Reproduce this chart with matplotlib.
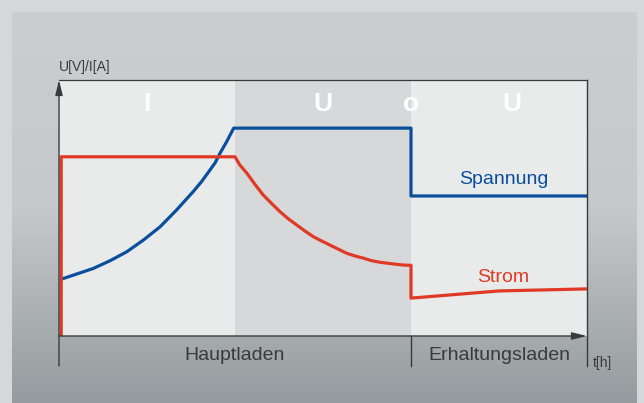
import numpy as np
import matplotlib.pyplot as plt
from matplotlib.colors import LinearSegmentedColormap

plt.rcParams['font.family'] = ['Liberation Sans', 'DejaVu Sans']

# Phasen (t in willkürlichen Einheiten)
phasen_grenzen = [0, 4, 8, 12]
phasen_labels = ["I", "U", "o", "U"]
phasen_label_t = [2.0, 6.0, 8.0, 10.3]
abschnitte = ["Hauptladen", "Erhaltungsladen"]
abschnitt_t = [4, 10]

# Spannung
t_spannung = [0.07, 0.40, 0.78, 1.16, 1.54, 1.92, 2.30, 2.67, 3.05, 3.24, 3.43,
              3.55, 3.66, 3.81, 3.97, 8.0, 8.0, 12.0]
u_spannung = [22.3, 24.2, 26.4, 29.4, 32.9, 37.5, 42.7, 49.2, 56.4, 60.3, 64.8,
              67.7, 71.4, 75.9, 81.2, 81.2, 54.7, 54.7]

# Strom
t_strom = [0.05, 0.05, 4.0, 4.11, 4.27, 4.45, 4.64, 4.83, 5.02, 5.21, 5.40, 5.59,
           5.78, 5.97, 6.16, 6.35, 6.54, 6.73, 6.92, 7.11, 7.30, 7.48, 7.67, 7.83,
           8.0, 8.0, 10.0, 12.0]
i_strom = [0.0, 70.0, 70.0, 66.8, 63.6, 59.3, 55.1, 51.8, 48.6, 45.8, 43.4, 41.0,
           38.8, 37.1, 35.5, 33.9, 32.3, 31.25, 30.4, 29.4, 28.8, 28.4, 28.0, 27.7,
           27.6, 14.8, 17.6, 18.4]

blau = "#0a4f9c"
rot = "#e03a26"
grau = "#3a3a3a"

fig = plt.figure(figsize=(6.44, 4.03), dpi=100)
fig.patch.set_facecolor("#d6d7d9")

# Hintergrund mit Verlauf
bg = fig.add_axes([12 / 644, 0, 625 / 644, 391 / 403])
cmap = LinearSegmentedColormap.from_list("bg", ["#cbced1", "#c6c9cc", "#959b9e"])
bg.imshow(np.linspace(0, 1, 256).reshape(-1, 1), aspect="auto", cmap=cmap,
          extent=[0, 1, 0, 1], origin="upper")
bg.axis("off")

ax = fig.add_axes([59 / 644, (403 - 336) / 403, 528 / 644, 256 / 403])
ax.set_xlim(phasen_grenzen[0], phasen_grenzen[-1])
ax.set_ylim(0, 100)

farben = ["#e9eaea", "#d7d8da", "#e9eaea"]
for i in range(3):
    ax.axvspan(phasen_grenzen[i], phasen_grenzen[i + 1], color=farben[i], lw=0, zorder=0)

ax.plot(t_spannung, u_spannung, color=blau, lw=2.3, solid_joinstyle="round", zorder=3)
ax.plot(t_strom, i_strom, color=rot, lw=2.3, solid_joinstyle="round", zorder=3)

for lab, t in zip(phasen_labels, phasen_label_t):
    ax.text(t, 87.9, lab, color="white", fontsize=19, fontweight="bold",
            ha="center", va="baseline", zorder=4)

ax.text(10.1, 61.3, "Spannung", color=blau, fontsize=14, ha="center", va="center")
ax.text(10.1, 23.0, "Strom", color=rot, fontsize=14, ha="center", va="center")

for s in ["left", "bottom", "right"]:
    ax.spines[s].set_visible(False)
ax.spines["top"].set_color(grau)
ax.spines["top"].set_linewidth(0.9)
ax.set_xticks([])
ax.set_yticks([])

unten = -30 / 256
tr = ax.get_xaxis_transform()
ax.annotate("", xy=(0, 1.0), xytext=(0, unten), xycoords="axes fraction",
            arrowprops=dict(arrowstyle="-|>,head_length=0.9,head_width=0.22",
                            color=grau, lw=1.0, shrinkA=0, shrinkB=0))
ax.annotate("", xy=(1.0, 0), xytext=(0, 0), xycoords="axes fraction",
            arrowprops=dict(arrowstyle="-|>,head_length=0.9,head_width=0.22",
                            color=grau, lw=1.0, shrinkA=0, shrinkB=0))
ax.plot([phasen_grenzen[2]] * 2, [0, unten], transform=tr, color=grau, lw=1.0, clip_on=False)
ax.plot([phasen_grenzen[-1]] * 2, [1, unten], transform=tr, color=grau, lw=1.0, clip_on=False)

for lab, t in zip(abschnitte, abschnitt_t):
    ax.text(t, -20 / 256, lab, transform=tr, color=grau, fontsize=14,
            ha="center", va="center")
ax.text(12.36, -27 / 256, "t[h]", transform=tr, color=grau, fontsize=10,
        ha="center", va="center")
ax.text(0, 1.05, "U[V]/I[A]", transform=ax.transAxes, color=grau, fontsize=10,
        ha="left", va="center")

fig.savefig("out.png", dpi=100, facecolor=fig.get_facecolor())
